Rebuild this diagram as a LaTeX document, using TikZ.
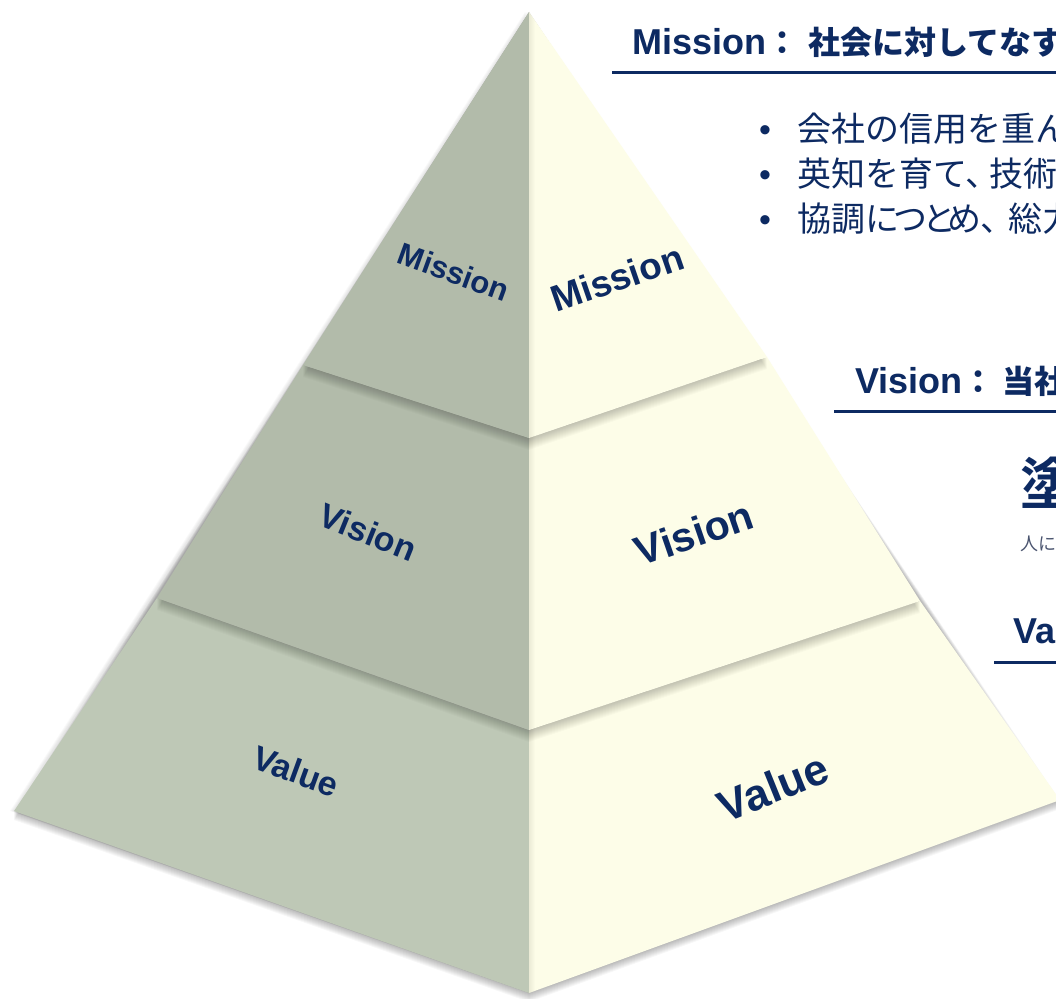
\documentclass[tikz,border=0pt]{standalone}
\usepackage{fontspec}
\setmainfont{Liberation Sans}
\newfontfamily\jpr{Noto Sans CJK JP}
\newfontfamily\jpb{Noto Sans CJK JP Bold}
\definecolor{navy}{HTML}{0D2A62}
\definecolor{leftA}{HTML}{B2BBAA}
\definecolor{leftC}{HTML}{BEC8B6}
\definecolor{rightF}{HTML}{FDFDE8}
\definecolor{subgray}{HTML}{4B5570}
\begin{document}
\begin{tikzpicture}[x=1pt,y=-1pt,
  lbl/.style={text=navy, inner sep=0pt},
  head/.style={text=navy, inner sep=0pt, anchor=base west, font=\fontsize{36}{36}\selectfont\bfseries},
  bodytxt/.style={text=navy, inner sep=0pt, anchor=base west, font=\jpr\fontsize{34}{34}\selectfont},
  dot/.style={text=navy, inner sep=0pt, font=\fontsize{34}{34}\selectfont},
  rule/.style={draw=navy, line width=3pt},
  shd/.style={fill=black, opacity=0.03}
]
\useasboundingbox (0,0) rectangle (1056,998);
\fill[white] (0,0) rectangle (1056,998);

% pyramid points
\coordinate (A) at (529,12);
\coordinate (L1) at (303,365);
\coordinate (C1) at (529,438);
\coordinate (R1) at (767,357);
\coordinate (L2) at (157,598);
\coordinate (C2) at (529,730);
\coordinate (R2) at (920,601);
\coordinate (L3) at (14,811);
\coordinate (C3) at (529,993);
\coordinate (R3) at (1060,800);

% outer soft shadow
\foreach \k in {1,...,9}{
  \fill[shd] ([yshift=-\k pt]L3) -- ([yshift=-\k pt]C3) -- ([yshift=-\k pt]R3) -- (A) -- cycle;
}
\foreach \k in {1,...,4}{
  \fill[shd, opacity=0.025] ([xshift=-\k pt]A) -- ([xshift=-\k pt]L3) -- (C3) -- cycle;
}

% bottom tier
\fill[leftC] (L2) -- (L3) -- (C3) -- (C2) -- cycle;
\fill[rightF] (C2) -- (C3) -- (R3) -- (R2) -- cycle;
\begin{scope}
  \clip (L2) -- (L3) -- (C3) -- (R3) -- (R2) -- (C2) -- cycle;
  \foreach \k in {1,...,12}{
    \fill[shd, opacity=0.02] ([yshift=-\k pt]L1) -- ([yshift=-\k pt]L2) -- ([yshift=-\k pt]C2) -- ([yshift=-\k pt]R2) -- ([yshift=-\k pt]R1) -- ([yshift=-\k pt]C1) -- cycle;
  }
\end{scope}

% middle tier
\fill[leftA] (L1) -- (L2) -- (C2) -- (C1) -- cycle;
\fill[rightF] (C1) -- (C2) -- (R2) -- (R1) -- cycle;
\begin{scope}
  \clip (L1) -- (L2) -- (C2) -- (R2) -- (R1) -- (C1) -- cycle;
  \foreach \k in {1,...,12}{
    \fill[shd, opacity=0.02] (A) -- ([yshift=-\k pt]L1) -- ([yshift=-\k pt]C1) -- ([yshift=-\k pt]R1) -- cycle;
  }
\end{scope}

% top tier
\fill[leftA] (A) -- (L1) -- (C1) -- cycle;
\fill[rightF] (A) -- (C1) -- (R1) -- cycle;

% seam shading on right face
\begin{scope}
  \clip (A) -- (C3) -- (R3) -- cycle;
  \foreach \k in {1,...,6}{
    \fill[black, opacity=0.012] (529,0) rectangle (529+\k,998);
  }
\end{scope}

% face labels
\node[lbl, font=\fontsize{31}{31}\selectfont\bfseries, rotate=-20] (mL) at (454,272) {Mission};
\node[lbl, font=\fontsize{37}{37}\selectfont\bfseries, rotate=19] (mR) at (617,278) {Mission};
\node[lbl, font=\fontsize{34}{34}\selectfont\bfseries, rotate=-22] (vL) at (368,532) {Vision};
\node[lbl, font=\fontsize{41}{41}\selectfont\bfseries, rotate=19] (vR) at (694,533) {Vision};
\node[lbl, font=\fontsize{34}{34}\selectfont\bfseries, rotate=-20] (aL) at (296,771) {Value};
\node[lbl, font=\fontsize{44}{44}\selectfont\bfseries, rotate=22] (aR) at (773,787) {Value};

% Mission block
\node[head] (mh) at (632,55) {Mission{\jpb\fontsize{32}{32}\selectfont ：\hspace{10pt}社会に対してなす}};
\coordinate (mu0) at (612,72);
\coordinate (mu1) at (1056,72);
\draw[rule] (mu0) -- (mu1);

\node[dot] (b1) at (765,134) {•};
\node[dot] (b2) at (765,179) {•};
\node[dot] (b3) at (765,224) {•};
\node[bodytxt] (t1) at (797,141) {会社の信用を重ん};
\node[bodytxt] (t2) at (797,186) {英知を育て、\hspace{-10pt}技術};
\node[bodytxt] (t3) at (797,231) {協調に\hspace{-6pt}つ\hspace{-5pt}と\hspace{-9pt}め\hspace{-1pt}、\hspace{-6pt}総力};

% Vision block
\node[head] (vh) at (855,393) {Vision{\jpb\fontsize{32}{32}\selectfont ：\hspace{8pt}当社}};
\coordinate (vu0) at (834,411);
\coordinate (vu1) at (1056,411);
\draw[rule] (vu0) -- (vu1);
\node[text=navy, inner sep=0pt, anchor=base west, font=\jpb\fontsize{56}{56}\selectfont] (big) at (1020,504) {塗};
\node[text=subgray, inner sep=0pt, anchor=base west, font=\jpr\fontsize{18}{18}\selectfont] (sub) at (1020,550) {人に};

% Value block
\node[head] (ah) at (1013,643) {Va};
\coordinate (au0) at (994,662);
\coordinate (au1) at (1056,662);
\draw[rule] (au0) -- (au1);
\end{tikzpicture}
\end{document}
